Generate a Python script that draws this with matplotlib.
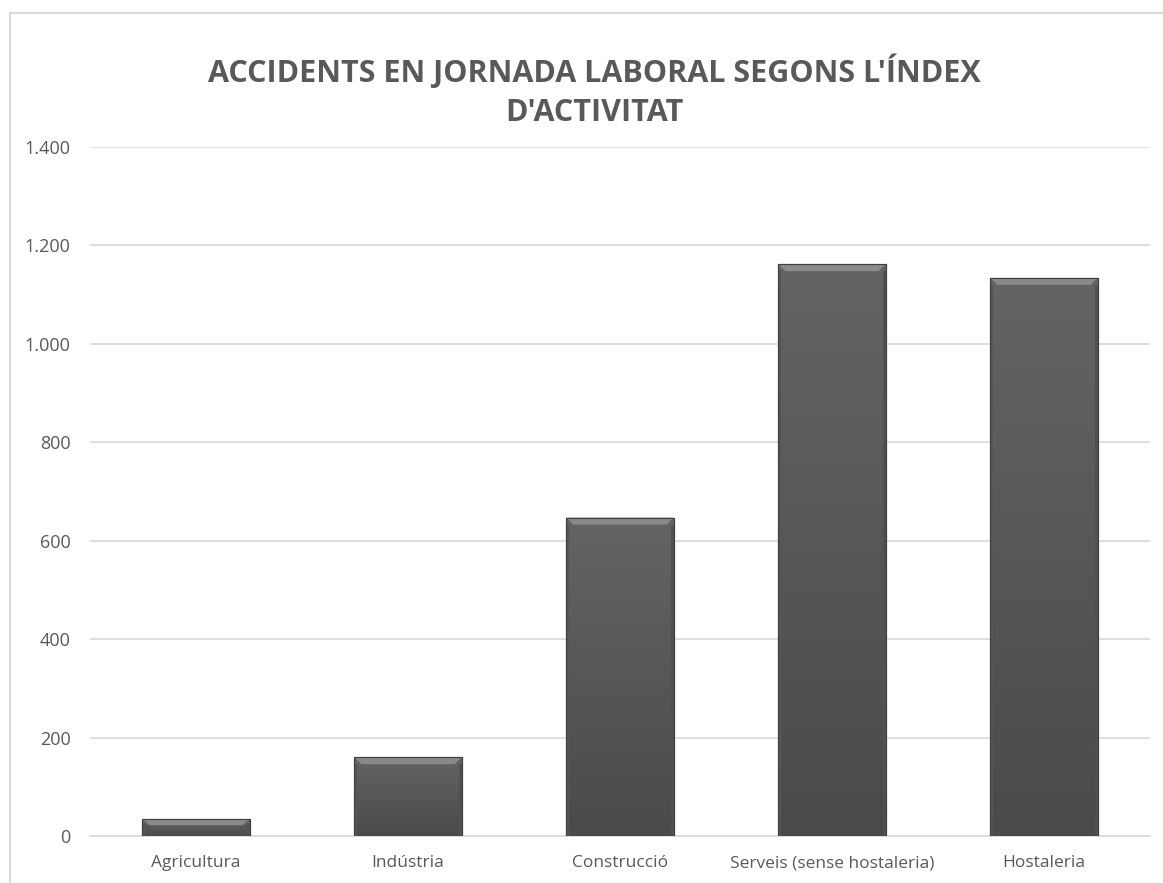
import matplotlib
matplotlib.use('Agg')
import matplotlib.pyplot as plt
import numpy as np
from matplotlib.patches import Rectangle, Polygon
from matplotlib.ticker import FuncFormatter

categories = ['Agricultura', 'Indústria', 'Construcció', 'Serveis (sense hostaleria)', 'Hostaleria']
values = [34, 160, 647, 1162, 1134]
title = "ACCIDENTS EN JORNADA LABORAL SEGONS L'ÍNDEX\nD'ACTIVITAT"
yticks = [0, 200, 400, 600, 800, 1000, 1200, 1400]

text_grey = '#595959'
grid_grey = '#d9d9d9'

plt.rcParams['font.family'] = ['Open Sans', 'DejaVu Sans']

W, H = 1163, 883
fig = plt.figure(figsize=[W / 100, H / 100], dpi=100)
ax = fig.add_axes([90 / W, 1 - 836 / H, (1150 - 90) / W, (836 - 147) / H])

# chart frame (runs off the right / bottom edge like the original)
fig.patches.append(Rectangle((9.5 / W, -0.1), 1.2, 1 - 12.5 / H + 0.1,
                             transform=fig.transFigure, fill=False,
                             edgecolor=grid_grey, linewidth=1.5))

x = np.arange(len(categories))
width = 0.505
bars = ax.bar(x, values, width, color='#5a5a5a', edgecolor='#3f3f3f',
              linewidth=0.8, zorder=3)

# vertical gradient + bevel on top of each bar
grad = np.linspace(0, 1, 256).reshape(-1, 1)
cmap = matplotlib.colors.LinearSegmentedColormap.from_list('g', ['#4a4a4a', '#646464'])
px_y = 1400 / 689.0   # data units per pixel (y)
px_x = 1 / 212.0      # data units per pixel (x)
for b, v in zip(bars, values):
    x0 = b.get_x()
    x1 = x0 + b.get_width()
    im = ax.imshow(grad, extent=[x0, x1, 0, v], origin='lower', cmap=cmap,
                   aspect='auto', zorder=3.1)
    im.set_clip_path(b)
    bev = 7
    bh = min(bev * px_y, v * 0.35)
    bw = bev * px_x
    top = Polygon([[x0, v], [x1, v], [x1 - bw, v - bh], [x0 + bw, v - bh]],
                  closed=True, facecolor='#8a8a8a', edgecolor='none', zorder=3.2)
    ax.add_patch(top)
    side_w = 3 * px_x
    ax.add_patch(Rectangle((x0, 0), side_w, v - bh, facecolor='#555555',
                           edgecolor='none', zorder=3.2))
    ax.add_patch(Rectangle((x1 - side_w, 0), side_w, v - bh, facecolor='#505050',
                           edgecolor='none', zorder=3.2))
    ax.add_patch(Rectangle((x0, 0), x1 - x0, v, fill=False, edgecolor='#3f3f3f',
                           linewidth=0.8, zorder=3.3))

ax.set_xlim(-0.5, len(categories) - 0.5)
ax.set_ylim(0, 1400)
ax.set_yticks(yticks)
ax.yaxis.set_major_formatter(FuncFormatter(lambda v, p: f'{int(v):,}'.replace(',', '.')))
ax.set_xticks(x)
ax.set_xticklabels(categories)
ax.tick_params(axis='both', length=0, labelsize=12.5, labelcolor=text_grey)
ax.tick_params(axis='y', labelsize=13, pad=14)
ax.tick_params(axis='x', pad=14)
ax.grid(axis='y', color=grid_grey, linewidth=1.2, zorder=0)
for s in ['top', 'right', 'left']:
    ax.spines[s].set_visible(False)
ax.spines['bottom'].set_color(grid_grey)
ax.spines['bottom'].set_linewidth(1.2)

fig.text(0.5 * (205 + 983) / W, 1 - 91 / H, title, ha='center', va='center',
         fontsize=22, fontweight='bold', color=text_grey, linespacing=1.4)

fig.savefig('out.png', dpi=100)
